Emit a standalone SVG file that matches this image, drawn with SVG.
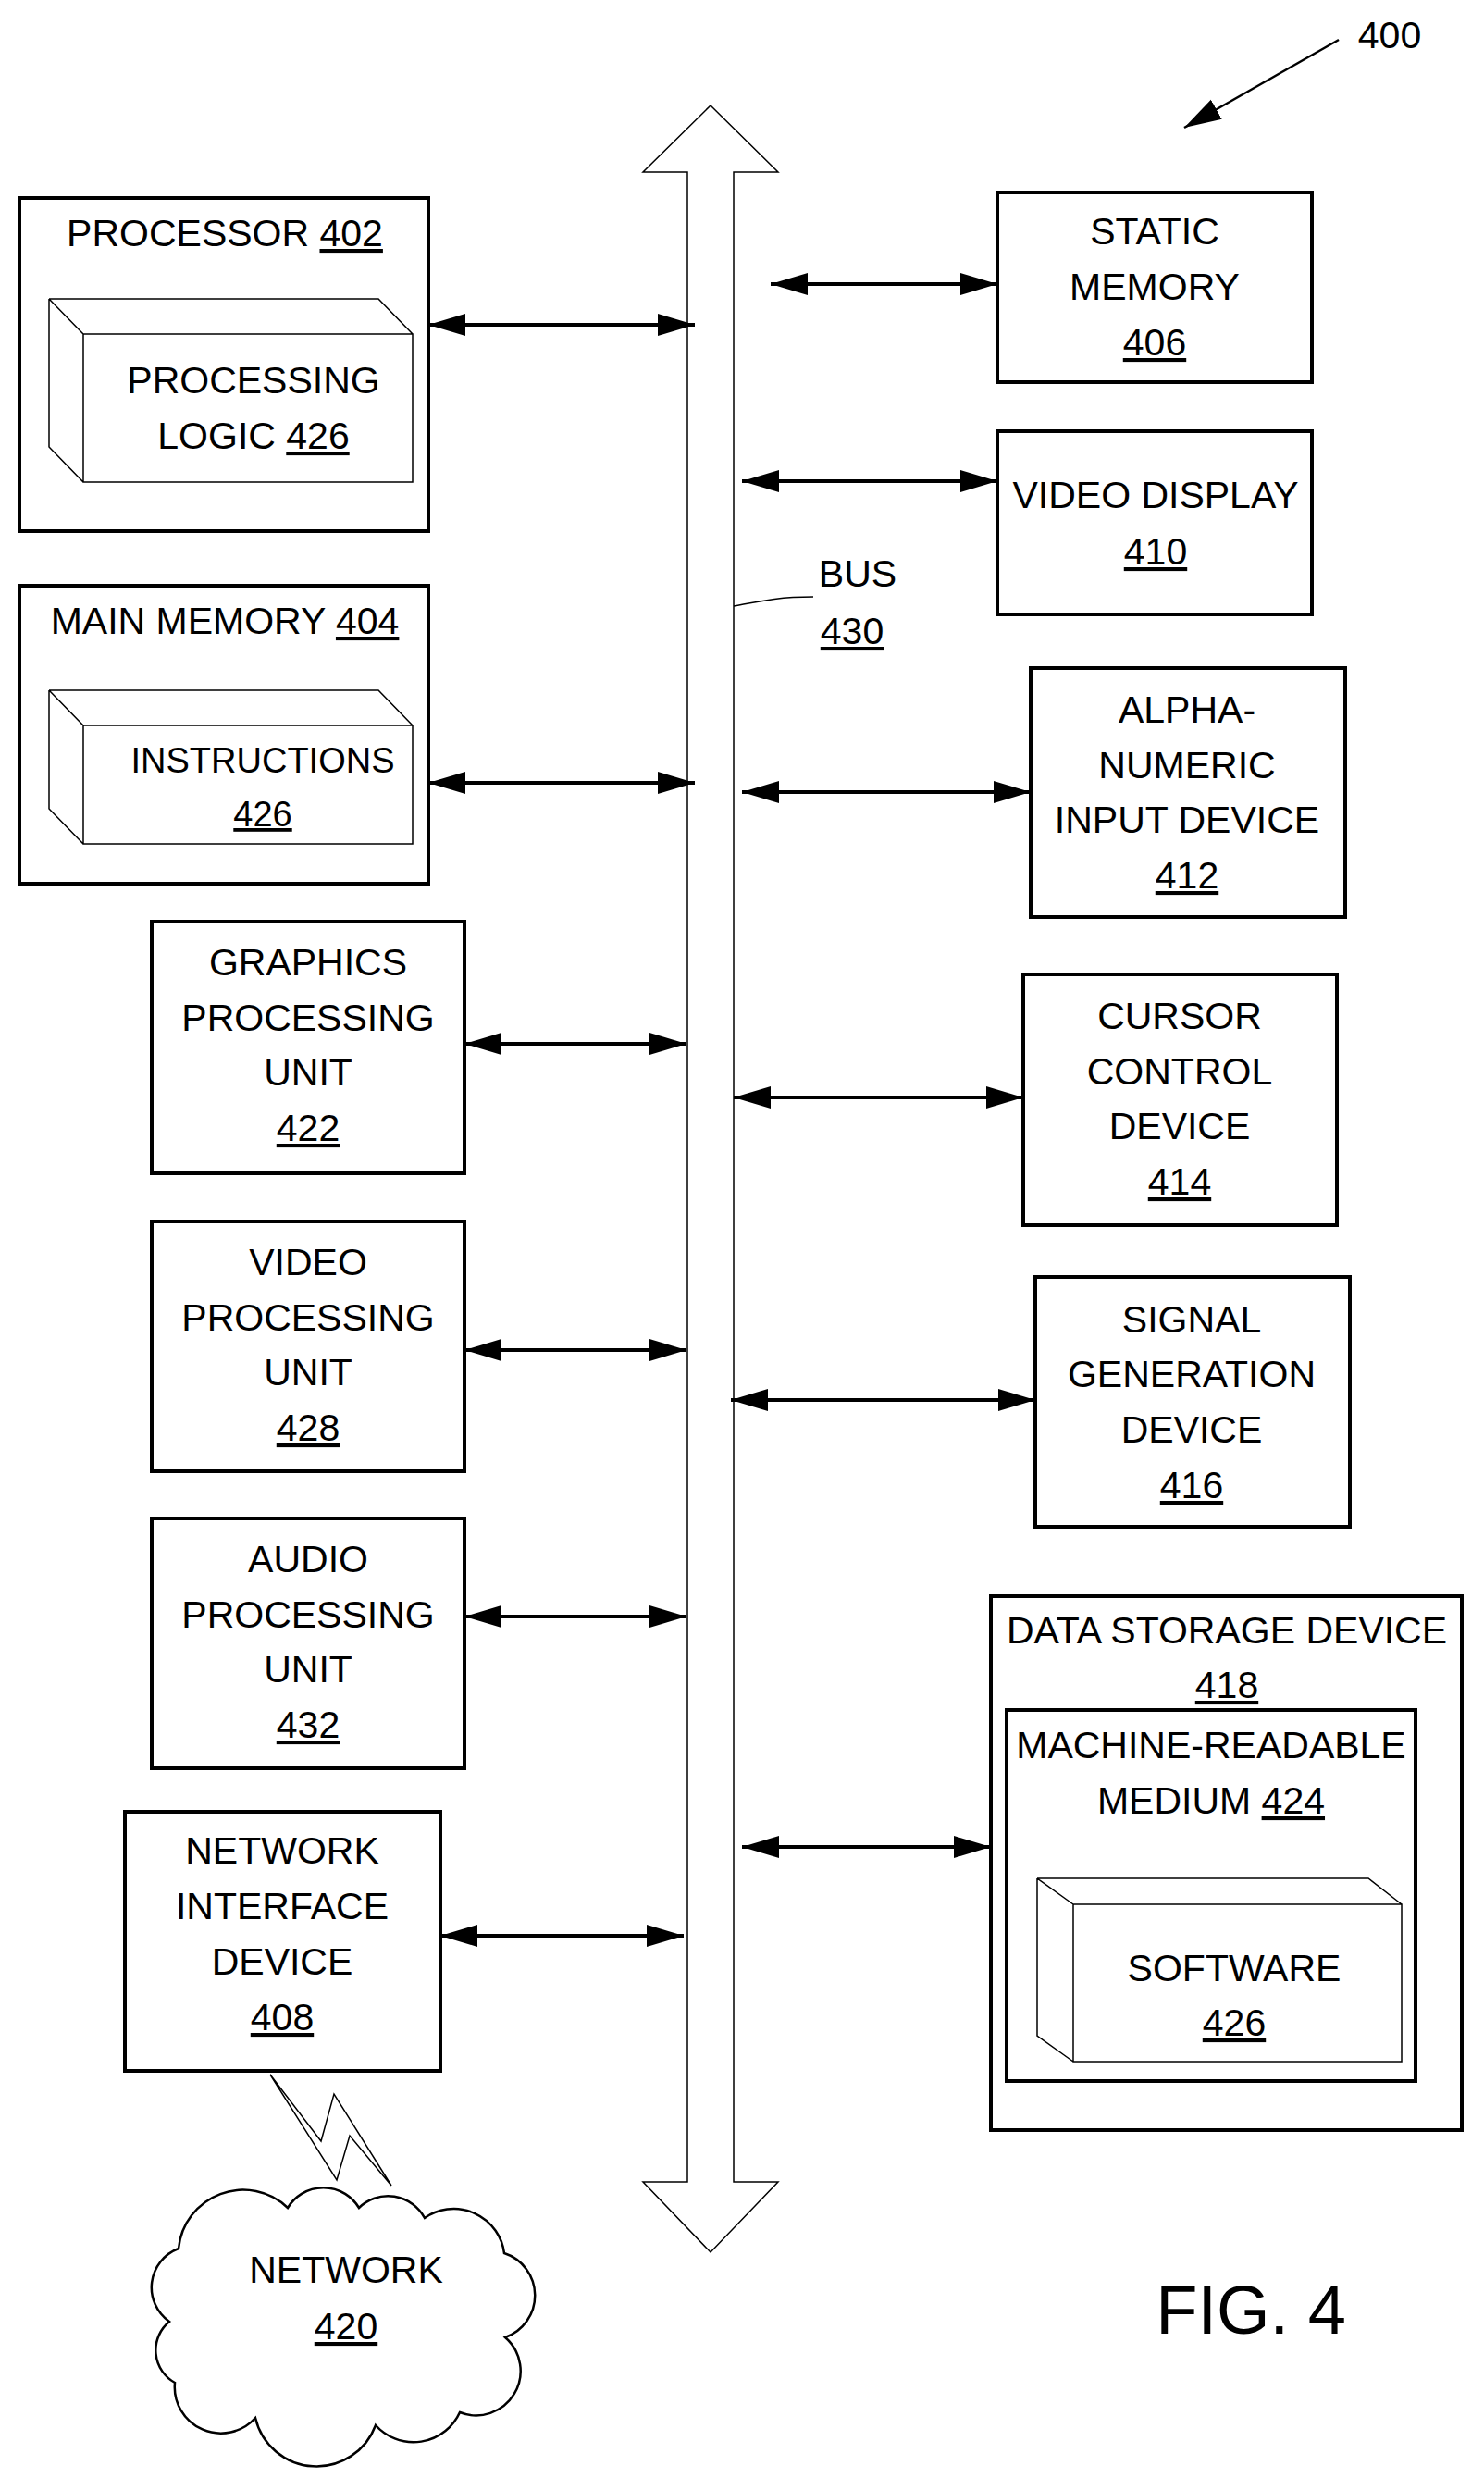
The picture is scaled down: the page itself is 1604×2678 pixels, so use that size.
<svg xmlns="http://www.w3.org/2000/svg" width="1604" height="2678" viewBox="0 0 1604 2678">
<style>
text{font-family:"Liberation Sans",Arial,sans-serif;font-size:41px;fill:#000;text-anchor:middle}
.u{text-decoration:underline}
.box{fill:none;stroke:#000;stroke-width:4}
.thin{fill:none;stroke:#000;stroke-width:1.5}
.conn{stroke:#000;stroke-width:4;fill:none;marker-start:url(#a);marker-end:url(#a)}
</style>
<defs>
<marker id="a" markerUnits="userSpaceOnUse" markerWidth="42" markerHeight="26" refX="40" refY="12" orient="auto-start-reverse"><path d="M0,0 L40,12 L0,24 z" fill="#000"/></marker>
<marker id="b" markerUnits="userSpaceOnUse" markerWidth="42" markerHeight="26" refX="40" refY="12" orient="auto"><path d="M0,0 L40,12 L0,24 z" fill="#000"/></marker>
</defs>
<rect width="1604" height="2678" fill="#fff"/>
<g id="bus">
<polygon class="thin" points="768,114 841,186 793,186 793,2358 841,2358 768,2434 695,2358 743,2358 743,186 695,186"/>
<path class="thin" d="M793,655 C820,650 840,645 879,645"/>
<text x="927" y="634">BUS</text><text x="921" y="696" class="u">430</text>
</g>
<g id="label400">
<text x="1502" y="52">400</text>
<line x1="1447" y1="43" x2="1280" y2="138" stroke="#000" stroke-width="2.5" marker-end="url(#b)"/>
</g>
<g id="processor">
<rect class="box" x="21" y="214" width="442" height="360"/>
<text x="243" y="266">PROCESSOR <tspan class="u">402</tspan></text>
<path class="thin" d="M90,361 H446 V521 H90 Z M53,323 H409 L446,361 M53,323 L90,361 M53,323 V483 L90,521"/>
<text x="274" y="425">PROCESSING</text>
<text x="274" y="485">LOGIC <tspan class="u">426</tspan></text>
</g>
<g id="mainmemory">
<rect class="box" x="21" y="633" width="442" height="322"/>
<text x="243" y="685">MAIN MEMORY <tspan class="u">404</tspan></text>
<path class="thin" d="M90,784 H446 V912 H90 Z M53,746 H409 L446,784 M53,746 L90,784 M53,746 V874 L90,912"/>
<text x="284" y="835" style="font-size:38px">INSTRUCTIONS</text>
<text x="284" y="893" class="u" style="font-size:38px">426</text>
</g>
<g id="gpu">
<rect class="box" x="164" y="996" width="338" height="272"/>
<text x="333" y="1054">GRAPHICS</text><text x="333" y="1114">PROCESSING</text><text x="333" y="1173">UNIT</text><text x="333" y="1233" class="u">422</text>
</g>
<g id="vpu">
<rect class="box" x="164" y="1320" width="338" height="270"/>
<text x="333" y="1378">VIDEO</text><text x="333" y="1438">PROCESSING</text><text x="333" y="1497">UNIT</text><text x="333" y="1557" class="u">428</text>
</g>
<g id="apu">
<rect class="box" x="164" y="1641" width="338" height="270"/>
<text x="333" y="1699">AUDIO</text><text x="333" y="1759">PROCESSING</text><text x="333" y="1818">UNIT</text><text x="333" y="1878" class="u">432</text>
</g>
<g id="nid">
<rect class="box" x="135" y="1958" width="341" height="280"/>
<text x="305" y="2014">NETWORK</text><text x="305" y="2074">INTERFACE</text><text x="305" y="2134">DEVICE</text><text x="305" y="2194" class="u">408</text>
</g>
<g id="network">
<path d="M193,2430 A70,70 0 0 1 311,2386 A45,45 0 0 1 388,2386 A45,45 0 0 1 459,2397 A55,55 0 0 1 545,2435 A48,48 0 0 1 546,2526 A48,48 0 0 1 497,2607 A55,55 0 0 1 406,2621 A68,68 0 0 1 276,2613 A50,50 0 0 1 189,2575 A40,40 0 0 1 183,2509 A45,45 0 0 1 193,2430 Z" fill="#fff" stroke="#000" stroke-width="2.5"/>
<text x="374" y="2467">NETWORK</text><text x="374" y="2528" class="u">420</text>
</g>
<g id="staticmemory">
<rect class="box" x="1078" y="208" width="340" height="205"/>
<text x="1248" y="264">STATIC</text><text x="1248" y="324">MEMORY</text><text x="1248" y="384" class="u">406</text>
</g>
<g id="videodisplay">
<rect class="box" x="1078" y="466" width="340" height="198"/>
<text x="1249" y="549">VIDEO DISPLAY</text><text x="1249" y="610" class="u">410</text>
</g>
<g id="alphanumeric">
<rect class="box" x="1114" y="722" width="340" height="269"/>
<text x="1283" y="781">ALPHA-</text><text x="1283" y="841">NUMERIC</text><text x="1283" y="900">INPUT DEVICE</text><text x="1283" y="960" class="u">412</text>
</g>
<g id="cursor">
<rect class="box" x="1106" y="1053" width="339" height="271"/>
<text x="1275" y="1112">CURSOR</text><text x="1275" y="1172">CONTROL</text><text x="1275" y="1231">DEVICE</text><text x="1275" y="1291" class="u">414</text>
</g>
<g id="signal">
<rect class="box" x="1119" y="1380" width="340" height="270"/>
<text x="1288" y="1440">SIGNAL</text><text x="1288" y="1499">GENERATION</text><text x="1288" y="1559">DEVICE</text><text x="1288" y="1619" class="u">416</text>
</g>
<g id="datastorage">
<rect class="box" x="1071" y="1725" width="509" height="577" stroke-width="3"/>
<text x="1326" y="1776">DATA STORAGE DEVICE</text><text x="1326" y="1835" class="u">418</text>
<rect class="box" x="1088" y="1848" width="442" height="401" stroke-width="3"/>
<text x="1309" y="1900">MACHINE-READABLE</text><text x="1309" y="1960">MEDIUM <tspan class="u">424</tspan></text>
<path class="thin" d="M1160,2058 H1515 V2228 H1160 Z M1121,2030 H1479 L1515,2058 M1121,2030 L1160,2058 M1121,2030 V2200 L1160,2228"/>
<text x="1334" y="2141">SOFTWARE</text><text x="1334" y="2200" class="u">426</text>
</g>
<g id="connectors">
<line class="conn" x1="463" y1="351" x2="751" y2="351"/>
<line class="conn" x1="463" y1="846" x2="751" y2="846"/>
<line class="conn" x1="502" y1="1128" x2="742" y2="1128"/>
<line class="conn" x1="502" y1="1459" x2="742" y2="1459"/>
<line class="conn" x1="502" y1="1747" x2="742" y2="1747"/>
<line class="conn" x1="476" y1="2092" x2="739" y2="2092"/>
<line class="conn" x1="833" y1="307" x2="1078" y2="307"/>
<line class="conn" x1="802" y1="520" x2="1078" y2="520"/>
<line class="conn" x1="802" y1="856" x2="1114" y2="856"/>
<line class="conn" x1="793" y1="1186" x2="1106" y2="1186"/>
<line class="conn" x1="790" y1="1513" x2="1119" y2="1513"/>
<line class="conn" x1="802" y1="1996" x2="1071" y2="1996"/>
<polygon class="thin" stroke-width="1.2" points="292,2242 347,2314 361,2263 423,2362 378,2308 364,2356"/>
</g>
<text x="1352" y="2522" style="font-size:74px">FIG. 4</text>
</svg>
